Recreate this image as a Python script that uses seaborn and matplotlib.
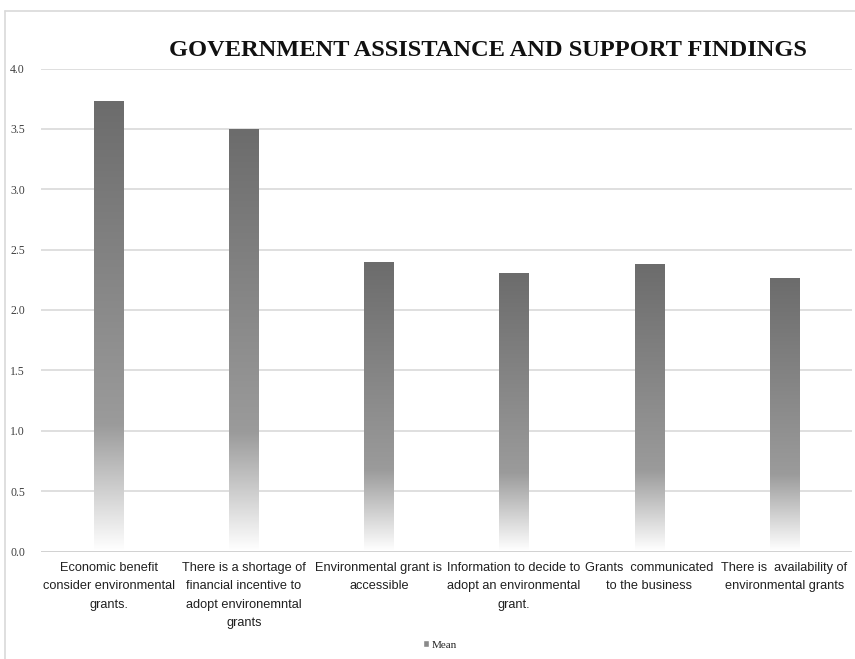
import numpy as np
import pandas as pd
import matplotlib
matplotlib.use("Agg")
import matplotlib.pyplot as plt
import seaborn as sns
from matplotlib.colors import LinearSegmentedColormap
from matplotlib.lines import Line2D
from matplotlib.patches import Rectangle

categories = [
    "Economic benefit\nconsider environmental\ngrants.",
    "There is a shortage of\nfinancial incentive to\nadopt environemntal\ngrants",
    "Environmental grant is\naccessible",
    "Information to decide to\nadopt an environmental\ngrant.",
    "Grants  communicated\nto the business",
    "There is  availability of\nenvironmental grants",
]
mean_values = [3.72, 3.49, 2.39, 2.30, 2.37, 2.26]
y_ticks = [0.0, 0.5, 1.0, 1.5, 2.0, 2.5, 3.0, 3.5, 4.0]
title = "GOVERNMENT ASSISTANCE AND SUPPORT FINDINGS"
series_name = "Mean"

df = pd.DataFrame({"cat": categories, "Mean": mean_values})

sns.set_style("white")
serif = ["Liberation Serif", "DejaVu Serif"]

fig = plt.figure(figsize=(8.55, 6.59), dpi=100)
ax = fig.add_axes([41 / 855, 1 - 551.5 / 659, 811 / 855, (551.5 - 68.5) / 659])

sns.barplot(data=df, x="cat", y="Mean", ax=ax, width=0.218, color="#707070", zorder=2)

cmap = LinearSegmentedColormap.from_list(
    "grad", [(0.0, "#6c6c6c"), (0.72, "#9b9b9b"), (1.0, "#ffffff")]
)
grad = np.linspace(0, 1, 256).reshape(-1, 1)
for p in list(ax.patches):
    x0, y0 = p.get_x(), p.get_y()
    w, h = p.get_width(), p.get_height()
    p.set_visible(False)
    ax.imshow(grad, cmap=cmap, aspect="auto", extent=[x0, x0 + w, y0, y0 + h],
              origin="upper", zorder=2, interpolation="bilinear")

ax.set_xlim(-0.5, len(categories) - 0.5)
ax.set_ylim(0, 4.0)
ax.set_yticks(y_ticks)
ax.set_yticklabels([f"{v:.1f}" for v in y_ticks], family=serif, fontsize=8.5, color="#404040")
ax.set_xticks(range(len(categories)))
ax.set_xticklabels(categories, family=["Liberation Sans", "DejaVu Sans"],
                   fontsize=9.2, color="#202020", linespacing=1.72)
ax.tick_params(axis="y", length=0, pad=11.5)
ax.tick_params(axis="x", length=0, pad=7.5)
ax.set_xlabel("")
ax.set_ylabel("")
for s in ax.spines.values():
    s.set_visible(False)
ax.yaxis.grid(True, color="#d9d9d9", linewidth=1.2, zorder=0)
ax.set_axisbelow(True)
ax.axhline(0, color="#d0d0d0", linewidth=1.2, zorder=3)

fig.text(488 / 855, 1 - 51 / 659, title, family=serif, fontweight="bold",
         fontsize=17.6, ha="center", va="center", color="#111111")

handle = [Rectangle((0, 0), 1, 1, facecolor="#8a8a8a")]
fig.legend(handle, [series_name], loc="center", bbox_to_anchor=(440 / 855, 1 - 645 / 659),
           frameon=False, prop={"family": serif, "size": 8}, handlelength=0.5, handleheight=0.5,
           handletextpad=0.2)

# outer chart frame
fig.add_artist(Line2D([5 / 855, 5 / 855], [0, 1 - 11 / 659], color="#d9d9d9", linewidth=1.2,
                      transform=fig.transFigure))
fig.add_artist(Line2D([5 / 855, 1], [1 - 11 / 659, 1 - 11 / 659], color="#d9d9d9", linewidth=1.2,
                      transform=fig.transFigure))

fig.savefig("out.png", dpi=100, facecolor="white")
